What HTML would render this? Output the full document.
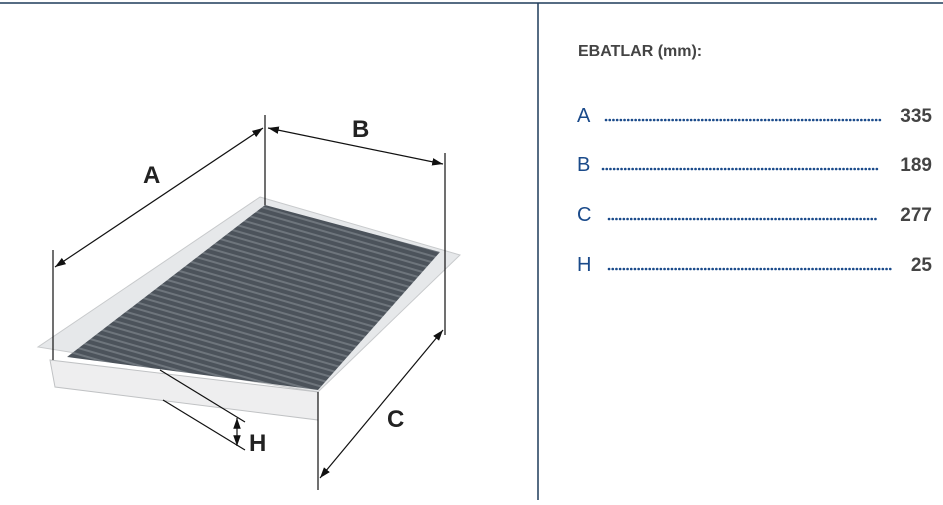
<!DOCTYPE html>
<html><head><meta charset="utf-8"><style>
body{margin:0;width:943px;height:500px;background:#fff;overflow:hidden;font-family:"Liberation Sans",sans-serif}
</style></head><body>
<svg width="943" height="500" viewBox="0 0 943 500" xmlns="http://www.w3.org/2000/svg">
<defs>
<pattern id="pl" width="6" height="6" patternUnits="userSpaceOnUse" patternTransform="rotate(16)">
<rect width="6" height="6" fill="#4c535b"/><rect width="6" height="2" fill="#6e757c"/>
</pattern>
<marker id="ar" viewBox="0 0 10 10" refX="10" refY="5" markerWidth="9" markerHeight="9" orient="auto-start-reverse"><path d="M0,1.5 L10,5 L0,8.5 z" fill="#111"/></marker>
</defs>
<line x1="0" y1="3" x2="943" y2="3" stroke="#1f3b5a" stroke-width="1.5"/>
<line x1="538" y1="3" x2="538" y2="500" stroke="#1f3b5a" stroke-width="1.5"/>
<polygon points="260,197 460,255 318,392 38,347" fill="#e6e8ea" stroke="#c8cacc"/>
<polygon points="50,360 318,392 318,420 55,387" fill="#eeeeef" stroke="#c0c2c4"/>
<polygon points="265,205 440,252 318,390 67,357" fill="url(#pl)"/>
<g stroke="#111" stroke-width="1.2" fill="none">
<line x1="53" y1="250" x2="53" y2="360"/>
<line x1="265" y1="115" x2="265" y2="205"/>
<line x1="445" y1="153" x2="445" y2="335"/>
<line x1="318" y1="392" x2="318" y2="490"/>
<line x1="55" y1="267" x2="263" y2="128" marker-start="url(#ar)" marker-end="url(#ar)"/>
<line x1="268" y1="128" x2="443" y2="164" marker-start="url(#ar)" marker-end="url(#ar)"/>
<line x1="443" y1="330" x2="320" y2="478" marker-start="url(#ar)" marker-end="url(#ar)"/>
<line x1="160" y1="370" x2="245" y2="422"/>
<line x1="163" y1="400" x2="245" y2="450"/>
<line x1="237" y1="418" x2="237" y2="446" marker-start="url(#ar)" marker-end="url(#ar)"/>
</g>
<g font-family="Liberation Sans,sans-serif" font-weight="bold" font-size="24" fill="#222">
<text x="143" y="183">A</text>
<text x="352" y="137">B</text>
<text x="387" y="427">C</text>
<text x="249" y="451">H</text>
</g>
<text x="578" y="56" font-size="16" font-weight="bold" fill="#444">EBATLAR (mm):</text>
<g font-size="20" fill="#1a4a8a">
<text x="577" y="122">A</text><text x="577" y="171">B</text><text x="577" y="221">C</text><text x="577" y="271">H</text>
</g>
<g stroke="#1a4a8a" stroke-width="2.6" stroke-dasharray="0.1,3.6" stroke-linecap="round">
<line x1="606" y1="120" x2="880" y2="120"/>
<line x1="603" y1="169" x2="878" y2="169"/>
<line x1="609" y1="219" x2="878" y2="219"/>
<line x1="609" y1="269" x2="892" y2="269"/>
</g>
<g font-size="19" font-weight="bold" fill="#444" text-anchor="end">
<text x="932" y="122">335</text><text x="932" y="171">189</text><text x="932" y="221">277</text><text x="932" y="271">25</text>
</g>
</svg>
</body></html>
